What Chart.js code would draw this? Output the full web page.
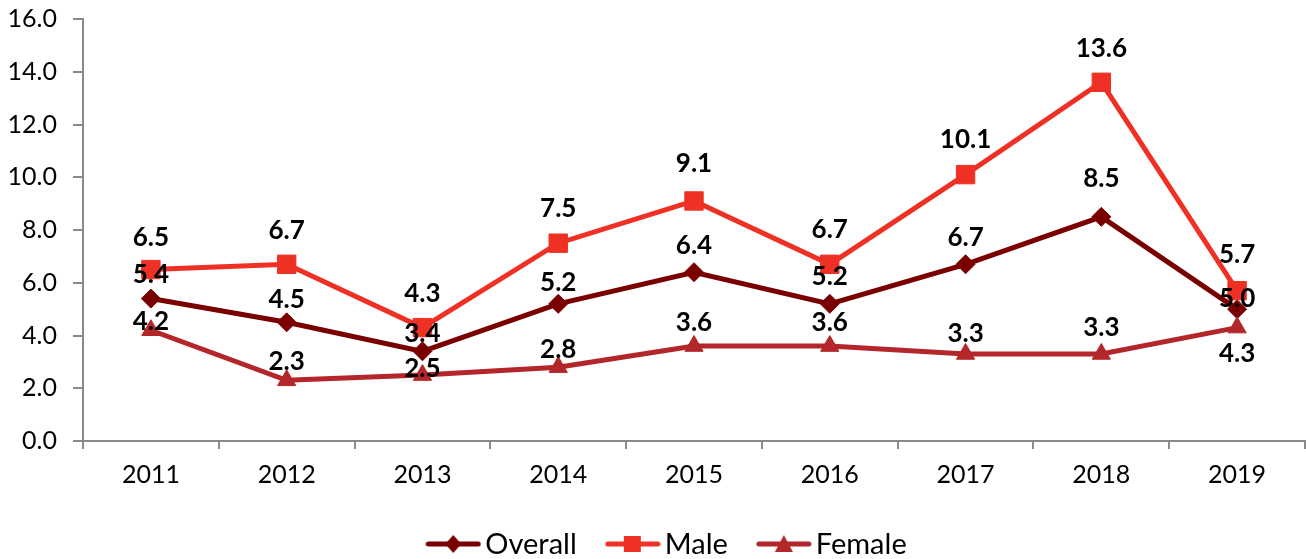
<!DOCTYPE html>
<html>
<head>
<meta charset="utf-8">
<script src="https://cdn.jsdelivr.net/npm/chart.js@4.4.1/dist/chart.umd.min.js"></script>
<style>
html,body{margin:0;padding:0;background:#ffffff;}
#wrap{width:1306px;height:559px;position:relative;}
canvas{display:block;}
</style>
</head>
<body>
<div id="wrap"><canvas id="chart" width="1306" height="559"></canvas></div>
<script>
// ---- data ----
const categories = ['2011','2012','2013','2014','2015','2016','2017','2018','2019'];
const overall = [5.4, 4.5, 3.4, 5.2, 6.4, 5.2, 6.7, 8.5, 5.0];
const male    = [6.5, 6.7, 4.3, 7.5, 9.1, 6.7, 10.1, 13.6, 5.7];
const female  = [4.2, 2.3, 2.5, 2.8, 3.6, 3.6, 3.3, 3.3, 4.3];
const seriesNames = ['Overall', 'Male', 'Female'];
const yMin = 0, yMax = 16, yStep = 2;

// ---- styles ----
const FONT = "Lato, 'Century Gothic', sans-serif";
const COLORS = { Overall: '#7A0000', Male: '#EE3124', Female: '#B3262A' };
// label vertical offsets (px above the marker; negative = below)
const LABEL_OFFSETS = {
  Overall: [25, 24, 19, 22, 28, 28, 28, 39, 12],
  Male:    [33, 35, 35, 36, 38, 36, 36, 35, 37],
  Female:  [10, 20, 7, 19, 24, 24, 21, 27, -25]
};

function makeLegendIcon(color, style) {
  const c = document.createElement('canvas');
  c.width = 56; c.height = 22;
  const g = c.getContext('2d');
  g.strokeStyle = color; g.fillStyle = color;
  g.lineWidth = 5; g.lineCap = 'round';
  g.beginPath(); g.moveTo(3, 11); g.lineTo(53, 11); g.stroke();
  g.beginPath();
  if (style === 'rectRot') {
    g.moveTo(28, 2); g.lineTo(36, 11); g.lineTo(28, 20); g.lineTo(20, 11);
  } else if (style === 'rect') {
    g.rect(19, 3, 17, 16);
  } else {
    g.moveTo(28, 2); g.lineTo(37, 19); g.lineTo(19, 19);
  }
  g.closePath(); g.fill();
  return c;
}

const dataLabelsPlugin = {
  id: 'dataLabels',
  afterDatasetsDraw(chart) {
    const ctx = chart.ctx;
    ctx.save();
    ctx.font = 'bold 26px ' + FONT;
    ctx.fillStyle = '#000000';
    ctx.textAlign = 'center';
    ctx.textBaseline = 'middle';
    chart.data.datasets.forEach((ds, di) => {
      const meta = chart.getDatasetMeta(di);
      const offs = LABEL_OFFSETS[ds.label];
      meta.data.forEach((pt, i) => {
        ctx.fillText(ds.data[i].toFixed(1), pt.x, pt.y - offs[i] + 1);
      });
    });
    ctx.restore();
  }
};

const legendPlugin = {
  id: 'customLegend',
  afterDraw(chart) {
    const ctx = chart.ctx;
    ctx.save();
    ctx.font = '29px ' + FONT;
    ctx.textBaseline = 'middle';
    ctx.textAlign = 'left';
    ctx.fillStyle = '#000000';
    const items = chart.data.datasets.map(ds => ({
      text: ds.label,
      icon: makeLegendIcon(ds.borderColor, ds.pointStyle)
    }));
    const iconW = 56, gapIcon = 4, gapItem = 28;
    let total = 0;
    items.forEach((it, i) => {
      it.w = ctx.measureText(it.text).width;
      total += iconW + gapIcon + it.w + (i < items.length - 1 ? gapItem : 0);
    });
    const cy = 544;
    let x = 666 - total / 2;
    items.forEach(it => {
      ctx.drawImage(it.icon, x, cy - it.icon.height / 2);
      x += iconW + gapIcon;
      ctx.fillText(it.text, x, cy + 1);
      x += it.w + gapItem;
    });
    ctx.restore();
  }
};

function ds(label, data, style, radius, order) {
  return {
    label, data,
    borderColor: COLORS[label],
    backgroundColor: COLORS[label],
    pointBackgroundColor: COLORS[label],
    pointBorderColor: COLORS[label],
    borderWidth: 5,
    pointStyle: style,
    pointRadius: radius,
    pointHoverRadius: radius,
    pointBorderWidth: 1,
    tension: 0,
    fill: false,
    clip: false,
    order
  };
}

const AXIS = '#8a8a8a';

new Chart(document.getElementById('chart'), {
  type: 'line',
  data: {
    labels: categories,
    datasets: [
      ds('Overall', overall, 'rectRot', 9.5, 3),
      ds('Male', male, 'rect', 13, 2),
      ds('Female', female, 'triangle', 10.5, 1)
    ]
  },
  options: {
    responsive: false,
    animation: false,
    events: [],
    devicePixelRatio: 1,
    layout: { autoPadding: false, padding: { top: 19, right: 1, left: 0, bottom: 0 } },
    plugins: {
      legend: { display: false },
      tooltip: { enabled: false }
    },
    scales: {
      x: {
        type: 'category',
        offset: true,
        grid: {
          offset: true,
          drawOnChartArea: false,
          drawTicks: true,
          tickLength: 8,
          color: AXIS,
          lineWidth: 2
        },
        border: { display: true, color: AXIS, width: 2 },
        ticks: {
          color: '#000000',
          font: { family: FONT, size: 25 },
          padding: 11,
          maxRotation: 0,
          autoSkip: false
        },
        afterFit(scale) {
          scale.height = 559 - 441;
          scale.paddingLeft = 0; scale.paddingRight = 0;
        }
      },
      y: {
        min: yMin, max: yMax,
        grid: {
          drawOnChartArea: false,
          drawTicks: true,
          tickLength: 10,
          color: AXIS,
          lineWidth: 2
        },
        border: { display: true, color: AXIS, width: 2 },
        ticks: {
          stepSize: yStep,
          color: '#000000',
          font: { family: FONT, size: 25 },
          padding: 16,
          callback: v => Number(v).toFixed(1)
        },
        afterFit(scale) {
          scale.width = 83;
          scale.paddingTop = 0; scale.paddingBottom = 0;
        }
      }
    }
  },
  plugins: [dataLabelsPlugin, legendPlugin]
});
</script>
</body>
</html>
